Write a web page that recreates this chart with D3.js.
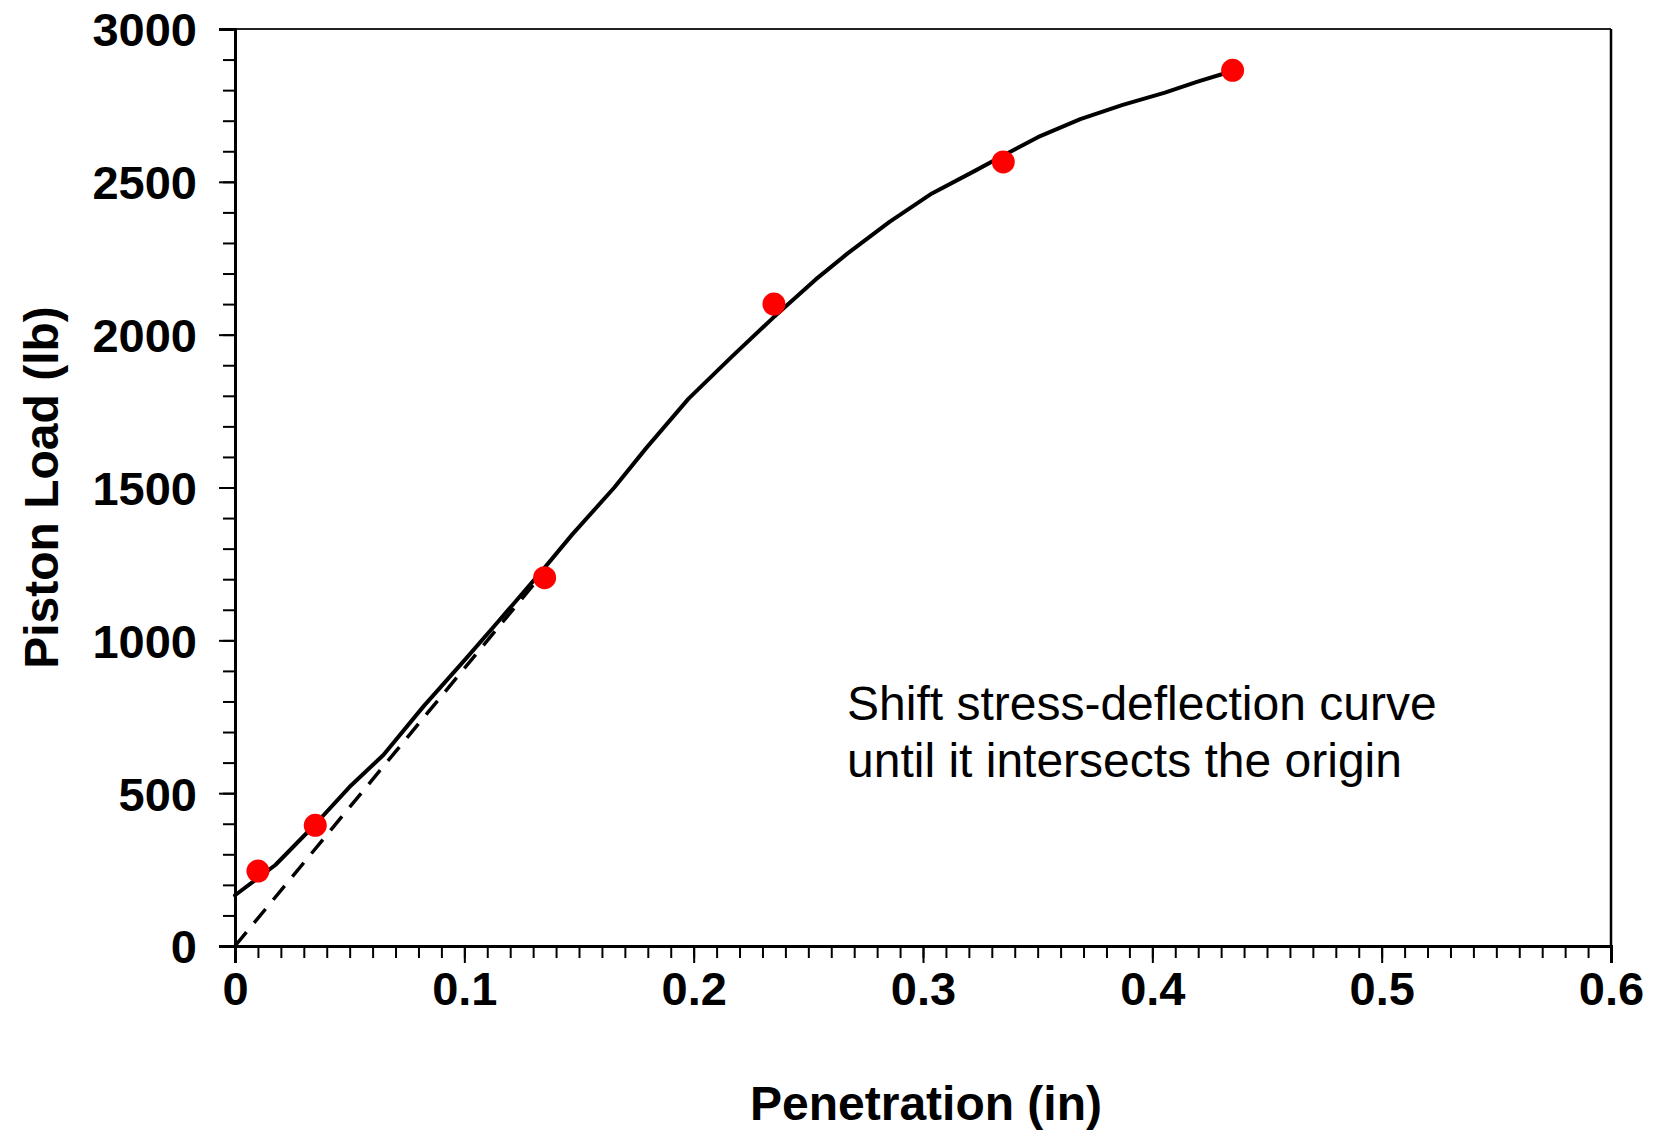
<!DOCTYPE html>
<html>
<head>
<meta charset="utf-8">
<script src="https://cdn.jsdelivr.net/npm/d3@7"></script>
<style>
  html, body { margin: 0; padding: 0; background: #fff; }
  svg { display: block; }
</style>
</head>
<body>
<svg id="chart" width="1660" height="1136"></svg>
<script>
// Measured CBR test points: penetration (in) and piston load (lb)
const penetration = [0.01, 0.035, 0.135, 0.235, 0.335, 0.435];
const pistonLoad  = [245, 395, 1205, 2100, 2565, 2865];

// Smoothed stress-deflection curve
const curvePen  = [0, 0.0176, 0.0346, 0.0499, 0.0647, 0.0822, 0.1007, 0.1146, 0.1344, 0.1469,
                   0.1654, 0.1792, 0.1977, 0.2162, 0.2346, 0.2531, 0.2670, 0.2854, 0.3039,
                   0.3224, 0.3344, 0.3501, 0.3686, 0.3871, 0.4055, 0.4194, 0.4342];
const curveLoad = [166, 265, 395, 520, 625, 784, 940, 1060, 1232, 1345,
                   1500, 1628, 1790, 1925, 2055, 2180, 2265, 2369, 2462,
                   2535, 2584, 2646, 2705, 2752, 2792, 2827, 2861];

// Corrected straight-line portion through the origin
const tangentPen  = [0, 0.136];
const tangentLoad = [0, 1235];

// Axis ticks
const xMajorTicks = [0, 0.1, 0.2, 0.3, 0.4, 0.5, 0.6];
const yMajorTicks = [0, 500, 1000, 1500, 2000, 2500, 3000];
const xMinorTicks = d3.range(0, 61).map(i => i / 100);
const yMinorTicks = d3.range(0, 31).map(i => i * 100);

const annotationLines = ["Shift stress-deflection curve", "until it intersects the origin"];

const svg = d3.select("#chart");
const W = 1660, H = 1136;
const margin = { left: 235, top: 29, right: 49, bottom: 190 };
const x = d3.scaleLinear().domain([0, 0.6]).range([margin.left, W - margin.right]);
const y = d3.scaleLinear().domain([0, 3000]).range([H - margin.bottom, margin.top]);

const font = "'Liberation Sans', Arial, sans-serif";

// Frame: top and right edges
svg.append("line")
  .attr("x1", x(0)).attr("x2", x(0.6)).attr("y1", y(3000)).attr("y2", y(3000))
  .attr("stroke", "#222").attr("stroke-width", 2);
svg.append("line")
  .attr("x1", x(0.6)).attr("x2", x(0.6)).attr("y1", y(3000)).attr("y2", y(0))
  .attr("stroke", "#000").attr("stroke-width", 2.5);

// X axis: minor ticks, then major ticks with labels
const xMinor = svg.append("g").attr("transform", `translate(0,${y(0)})`)
  .call(d3.axisBottom(x).tickValues(xMinorTicks).tickSize(12).tickFormat(""));
const xMajor = svg.append("g").attr("transform", `translate(0,${y(0)})`)
  .call(d3.axisBottom(x).tickValues(xMajorTicks).tickSize(17).tickPadding(42)
    .tickFormat(d => d === 0 ? "0" : d3.format(".1f")(d)));

// Y axis
const yMinor = svg.append("g").attr("transform", `translate(${x(0)},0)`)
  .call(d3.axisLeft(y).tickValues(yMinorTicks).tickSize(12).tickFormat(""));
const yMajor = svg.append("g").attr("transform", `translate(${x(0)},0)`)
  .call(d3.axisLeft(y).tickValues(yMajorTicks).tickSize(16).tickPadding(22)
    .tickFormat(d3.format("d")));

[xMinor, xMajor, yMinor, yMajor].forEach(g => {
  g.selectAll("path.domain").attr("stroke", "#000").attr("stroke-width", 3);
  g.selectAll(".tick line").attr("stroke", "#000").attr("stroke-width", 2);
  g.selectAll(".tick text")
    .attr("font-family", font).attr("font-size", 47).attr("font-weight", "bold").attr("fill", "#000");
});
xMajor.selectAll(".tick text").attr("dy", "0");
yMajor.selectAll(".tick text").attr("dy", "0.36em");

// Dashed line through origin
const line = d3.line().x(d => x(d[0])).y(d => y(d[1]));
svg.append("path")
  .datum(d3.zip(tangentPen, tangentLoad))
  .attr("d", line)
  .attr("fill", "none").attr("stroke", "#000").attr("stroke-width", 3.5)
  .attr("stroke-dasharray", "18,12");

// Solid curve
svg.append("path")
  .datum(d3.zip(curvePen, curveLoad))
  .attr("d", line.curve(d3.curveLinear))
  .attr("fill", "none").attr("stroke", "#000").attr("stroke-width", 4)
  .attr("stroke-linejoin", "round").attr("stroke-linecap", "round");

// Data points
svg.append("g").selectAll("circle")
  .data(d3.zip(penetration, pistonLoad))
  .join("circle")
  .attr("cx", d => x(d[0])).attr("cy", d => y(d[1])).attr("r", 11.5)
  .attr("fill", "#ff0000");

// Axis titles
svg.append("text")
  .attr("x", (x(0) + x(0.6)) / 2 + 3).attr("y", 1120)
  .attr("text-anchor", "middle")
  .attr("font-family", font).attr("font-size", 48).attr("font-weight", "bold")
  .text("Penetration (in)");
svg.append("text")
  .attr("transform", `translate(58,${(y(0) + y(3000)) / 2}) rotate(-90)`)
  .attr("text-anchor", "middle")
  .attr("font-family", font).attr("font-size", 48).attr("font-weight", "bold")
  .text("Piston Load (lb)");

// Annotation
svg.append("g").selectAll("text")
  .data(annotationLines)
  .join("text")
  .attr("x", 847).attr("y", (d, i) => 720 + i * 57)
  .attr("font-family", font).attr("font-size", 48)
  .text(d => d);
</script>
</body>
</html>
